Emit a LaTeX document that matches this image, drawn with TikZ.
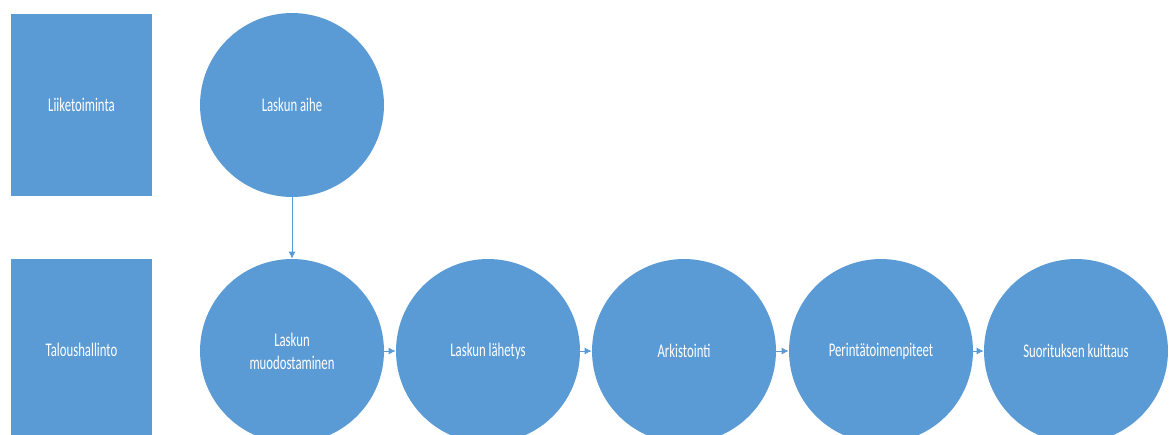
\documentclass[tikz,border=0pt]{standalone}
\usepackage{fontspec}
\setmainfont{Carlito}[FakeStretch=0.66]
\usetikzlibrary{arrows.meta}
\definecolor{officeblue}{HTML}{5B9BD5}

\begin{document}
\begin{tikzpicture}[x=0.02cm, y=-0.02cm, font=\fontsize{11}{13}\selectfont, >={Latex[length=4pt,width=4pt]},
  lane/.style={fill=officeblue, text=white, minimum width=2.82cm, minimum height=3.64cm, inner sep=0pt},
  stage/.style={circle, fill=officeblue, text=white, minimum size=3.68cm, inner sep=0pt, align=center},
  flow/.style={draw=officeblue, ->, line width=0.5pt}]
  \useasboundingbox (0,0) rectangle (1173,434);
  \clip (0,0) rectangle (1173,434);

  % swim lanes
  \node[lane] (liike) at (81.5,105) {Liiketoiminta};
  \node[lane] (talous) at (81.5,350) {Taloushallinto};

  % process steps
  \node[stage] (aihe) at (292,105) {Laskun aihe};
  \node[stage] (muodostus) at (292,351) {Laskun\\muodostaminen};
  \node[stage] (lahetys) at (488,351) {Laskun lähetys};
  \node[stage] (arkisto) at (684,351) {Arkistointi};
  \node[stage] (perinta) at (881,351) {Perintätoimenpiteet};
  \node[stage] (kuittaus) at (1076,351) {Suorituksen kuittaus};

  \draw[flow] (aihe) -- (muodostus);
  \draw[flow] (muodostus) -- (lahetys);
  \draw[flow] (lahetys) -- (arkisto);
  \draw[flow] (arkisto) -- (perinta);
  \draw[flow] (perinta) -- (kuittaus);
\end{tikzpicture}
\end{document}
